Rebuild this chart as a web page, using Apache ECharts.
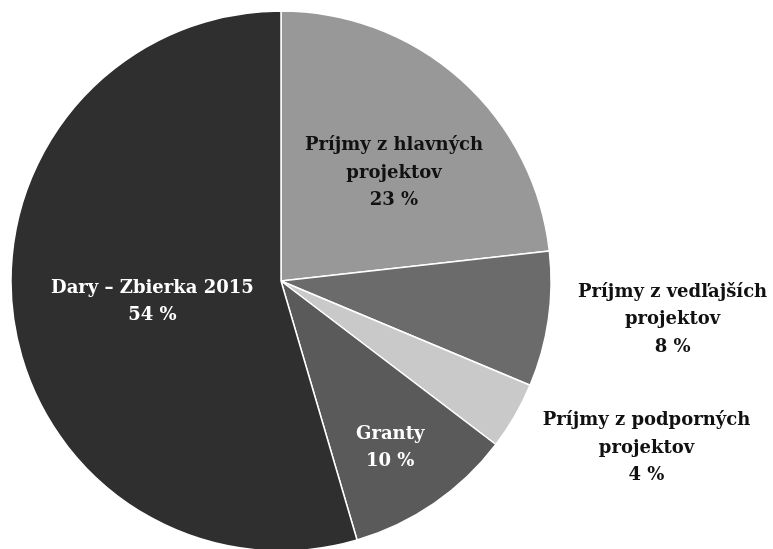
<!DOCTYPE html>
<html>
<head>
<meta charset="utf-8">
<script src="https://cdn.jsdelivr.net/npm/echarts@6/dist/echarts.min.js"></script>
<style>
  html, body { margin: 0; padding: 0; background: #fff; }
  #pieChart { width: 773px; height: 549px; }
</style>
</head>
<body>
<div id="pieChart"></div>
<script>
// data, clockwise from 12 o'clock
const categories = [
  'Príjmy z hlavných\nprojektov',
  'Príjmy z vedľajších\nprojektov',
  'Príjmy z podporných\nprojektov',
  'Granty',
  'Dary – Zbierka 2015'
];
const shares = [23, 8, 4, 10, 54];

const sliceColors = ['#989898', '#6b6b6b', '#c9c9c9', '#5a5a5a', '#2f2f2f'];
const labelColors = ['#111', '#111', '#111', '#fff', '#fff'];
// nudge of each label from its default inside spot
const labelNudge = [[21, -5], [255, 19], [246, 98], [31, 53], [8, 1]];

const chart = echarts.init(document.getElementById('pieChart'));
chart.setOption({
  animation: false,
  series: {
    type: 'pie',
    center: [281, 281],
    radius: [0, 270],
    startAngle: 90,
    clockwise: true,
    itemStyle: {
      borderColor: '#fff',
      borderWidth: 1.5
    },
    label: {
      position: 'inside',
      formatter: '{b}\n{c} %',
      fontFamily: 'DejaVu Serif',
      fontWeight: 'bold',
      fontSize: 18,
      lineHeight: 27.5,
      align: 'center'
    },
    labelLine: { show: false },
    emphasis: { disabled: true },
    labelLayout: function (params) {
      const n = labelNudge[params.dataIndex];
      return { dx: n[0], dy: n[1] };
    },
    data: categories.map((name, i) => ({
      name: name,
      value: shares[i],
      itemStyle: { color: sliceColors[i] },
      label: { color: labelColors[i] }
    }))
  }
});
</script>
</body>
</html>
